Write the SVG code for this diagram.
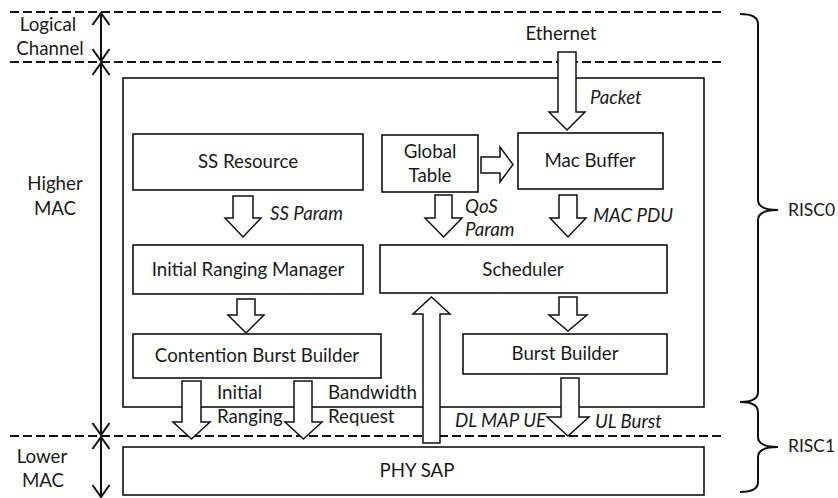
<svg xmlns="http://www.w3.org/2000/svg" width="838" height="498" viewBox="0 0 838 498">
  <defs>
    <style>
      text { font-family: Lato, "Liberation Sans", sans-serif; font-size: 18.7px; fill: #1a1a1a; }
      .c { text-anchor: middle; }
      .i { font-style: italic; }
      .cpu { font-size: 17.5px; }
      .box { fill: #ffffff; stroke: #111111; stroke-width: 1.6; }
      .frame { fill: none; stroke: #111111; stroke-width: 1.6; }
      .dash { stroke: #111111; stroke-width: 2; stroke-dasharray: 9 4; fill: none; }
      .blk { fill: #ffffff; stroke: #111111; stroke-width: 1.5; stroke-linejoin: miter; }
      .dim { stroke: #111111; stroke-width: 2; fill: none; }
      .brace { stroke: #111111; stroke-width: 2; fill: none; }
    </style>
    <marker id="open" viewBox="0 0 14 18" refX="13" refY="9" markerWidth="14" markerHeight="18" markerUnits="userSpaceOnUse" orient="auto-start-reverse">
      <path d="M1,0.5 L13,9 L1,17.5" fill="none" stroke="#111111" stroke-width="2"/>
    </marker>
  </defs>

  <rect width="838" height="498" fill="#ffffff"/>

  <!-- layer boundaries -->
  <g id="boundaries">
    <line class="dash" x1="10" y1="12" x2="724" y2="12"/>
    <line class="dash" x1="10" y1="62" x2="724" y2="62"/>
    <line class="dash" x1="10" y1="436" x2="724" y2="436"/>
  </g>

  <!-- layer extents -->
  <g id="layer-logical-channel">
    <line class="dim" x1="101" y1="13" x2="101" y2="61" marker-start="url(#open)" marker-end="url(#open)"/>
    <text class="c" x="48" y="31">Logical</text>
    <text class="c" x="50" y="55">Channel</text>
  </g>
  <g id="layer-higher-mac">
    <line class="dim" x1="101" y1="63" x2="101" y2="435" marker-start="url(#open)" marker-end="url(#open)"/>
    <text class="c" x="55" y="190">Higher</text>
    <text class="c" x="55" y="215">MAC</text>
  </g>
  <g id="layer-lower-mac">
    <line class="dim" x1="101" y1="437" x2="101" y2="497" marker-start="url(#open)" marker-end="url(#open)"/>
    <text class="c" x="42" y="463">Lower</text>
    <text class="c" x="43" y="487">MAC</text>
  </g>

  <!-- processor split -->
  <g id="risc0">
    <path class="brace" d="M740,14 Q758,14 758,24 L758,200 Q758,210 778,210 Q758,210 758,220 L758,392 Q758,402 740,402"/>
    <text class="cpu" x="788" y="216">RISC0</text>
  </g>
  <g id="risc1">
    <path class="brace" d="M740,402 Q758,402 758,412 L758,437 Q758,447 778,447 Q758,447 758,457 L758,482 Q758,492 740,492"/>
    <text class="cpu" x="788" y="452">RISC1</text>
  </g>

  <!-- higher MAC frame -->
  <g id="higher-mac-frame">
    <rect class="frame" x="123" y="78" width="581" height="329"/>
  </g>

  <g id="ss-resource">
    <rect class="box" x="133" y="134" width="230" height="56"/>
    <text class="c" x="248" y="168">SS Resource</text>
  </g>
  <g id="global-table">
    <rect class="box" x="382" y="135" width="96" height="57"/>
    <text class="c" x="430" y="158">Global</text>
    <text class="c" x="430" y="182">Table</text>
  </g>
  <g id="mac-buffer">
    <rect class="box" x="518" y="133" width="145" height="56"/>
    <text class="c" x="590" y="167">Mac Buffer</text>
  </g>
  <g id="initial-ranging-manager">
    <rect class="box" x="133" y="245" width="230" height="49"/>
    <text class="c" x="248" y="276">Initial Ranging Manager</text>
  </g>
  <g id="scheduler">
    <rect class="box" x="380" y="245" width="287" height="48"/>
    <text class="c" x="523" y="276">Scheduler</text>
  </g>
  <g id="contention-burst-builder">
    <rect class="box" x="133" y="334" width="248" height="44"/>
    <text class="c" x="257" y="362">Contention Burst Builder</text>
  </g>
  <g id="burst-builder">
    <rect class="box" x="463" y="334" width="204" height="40"/>
    <text class="c" x="565" y="360">Burst Builder</text>
  </g>
  <g id="phy-sap">
    <rect class="box" x="123" y="447" width="581" height="48"/>
    <text class="c" x="417" y="477">PHY SAP</text>
  </g>

  <!-- data flows -->
  <g id="connectors">
    <!-- Ethernet packet into Mac Buffer -->
    <polygon class="blk" points="558,52 576,52 576,112 585,112 567,130 549,112 558,112"/>
    <text class="c" x="561" y="40">Ethernet</text>
    <text class="i" x="590" y="104">Packet</text>

    <!-- Global Table to Mac Buffer -->
    <polygon class="blk" points="481,157 500,157 500,147 513,164.5 500,182 500,173 481,173"/>

    <!-- SS Resource to Initial Ranging Manager -->
    <polygon class="blk" points="233,196 253,196 253,218 261,218 243,237 225,218 233,218"/>
    <text class="i" x="270" y="220">SS Param</text>

    <!-- Global Table to Scheduler -->
    <polygon class="blk" points="435,195 452,195 452,218 462,218 443.5,237 425,218 435,218"/>
    <text class="i" x="465" y="213">QoS</text>
    <text class="i" x="465" y="236">Param</text>

    <!-- Mac Buffer to Scheduler -->
    <polygon class="blk" points="559,195 577,195 577,218 586,218 568,237 550,218 559,218"/>
    <text class="i" x="593" y="222">MAC PDU</text>

    <!-- Initial Ranging Manager to Contention Burst Builder -->
    <polygon class="blk" points="237,299 255,299 255,315 264,315 246,333 228,315 237,315"/>

    <!-- Scheduler to Burst Builder -->
    <polygon class="blk" points="559,297 577,297 577,315 587,315 568,331 549,315 559,315"/>

    <!-- Contention Burst Builder to PHY SAP -->
    <polygon class="blk" points="182,381 201,381 201,422 210,422 191.5,439 173,422 182,422"/>
    <text x="217" y="399">Initial</text>
    <text x="217" y="423">Ranging</text>

    <polygon class="blk" points="294,381 312,381 312,422 322,422 303.5,439 285,422 294,422"/>
    <text x="328" y="399">Bandwidth</text>
    <text x="328" y="423">Request</text>

    <!-- PHY SAP up to Scheduler -->
    <polygon class="blk" points="423,443 440,443 440,314 450,314 431.5,297 413,314 423,314"/>
    <text class="i" x="455" y="427">DL MAP UE</text>

    <!-- Burst Builder to PHY SAP -->
    <polygon class="blk" points="561,378 579,378 579,417 589,417 568,436 547,417 561,417"/>
    <text class="i" x="595" y="428">UL Burst</text>
  </g>
</svg>
